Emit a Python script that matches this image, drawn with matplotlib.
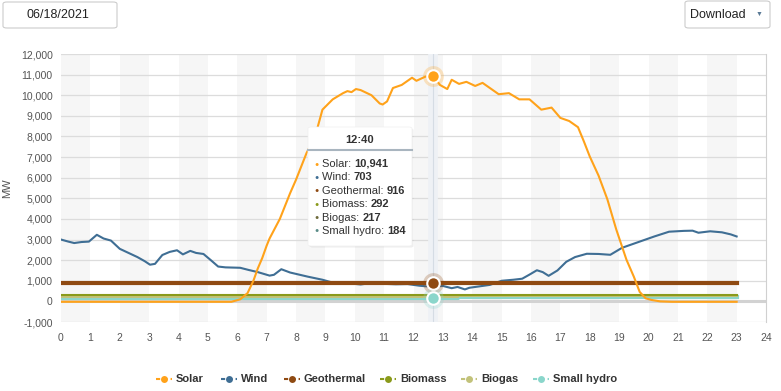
import matplotlib
matplotlib.use("Agg")
import matplotlib.pyplot as plt
from matplotlib.patches import FancyBboxPatch
from matplotlib.lines import Line2D
import numpy as np

plt.rcParams['font.family'] = ['Liberation Sans', 'DejaVu Sans']

# ---- data ----
date_label = "06/18/2021"
tip_time = "12:40"
tip_hour = 12 + 40 / 60

solar_h = [0, 5.8, 6.1, 6.35, 6.55, 6.7, 6.85, 7.0, 7.1, 7.45, 7.8, 8.0, 8.36, 8.65, 8.9,
           9.25, 9.6, 9.75, 9.89, 10.04, 10.2, 10.57, 10.85, 10.95, 11.1, 11.3, 11.6, 11.95,
           12.1, 12.4, 12.67, 12.9, 13.15, 13.3, 13.55, 13.8, 14.1, 14.35, 14.9, 15.25,
           15.6, 15.95, 16.35, 16.7, 17.0, 17.3, 17.6, 17.8, 18.0, 18.3, 18.6, 18.9, 19.25,
           19.5, 19.7, 19.9, 20.1, 20.4, 20.8, 23.0]
solar_v = [-20, -20, 100, 400, 1000, 1600, 2100, 2700, 3050, 4000, 5250, 5900, 7200, 8000, 9300,
           9800, 10100, 10200, 10150, 10300, 10250, 10000, 9600, 9550, 9700, 10350, 10500, 10850,
           10700, 10900, 10941, 10500, 10300, 10750, 10550, 10650, 10450, 10600, 10050, 10100,
           9800, 9800, 9300, 9400, 8900, 8750, 8450, 7760, 7030, 6100, 4950, 3500, 2020,
           1200, 460, 150, 70, 0, -20, -20]

wind_h = [0, 0.25, 0.45, 0.7, 0.95, 1.22, 1.45, 1.7, 2.0, 2.3, 2.6, 2.85, 3.03, 3.2, 3.45,
          3.7, 3.95, 4.15, 4.4, 4.6, 4.85, 5.1, 5.35, 5.6, 6.1, 6.4, 6.7, 7.1, 7.25, 7.5, 7.8,
          8.1, 8.4, 8.9, 9.4, 9.8, 10.2, 10.6, 11.0, 11.4, 11.8, 12.2, 12.67, 13.0, 13.3, 13.5,
          13.75, 13.9, 14.2, 14.6, 15.0, 15.4, 15.7, 15.95, 16.2, 16.4, 16.6, 16.9, 17.2, 17.5,
          17.9, 18.3, 18.7, 19.1, 19.5, 19.8, 20.2, 20.7, 21.2, 21.5, 21.7, 22.1, 22.5, 22.8, 23.0]
wind_v = [3000, 2900, 2830, 2880, 2900, 3230, 3050, 2950, 2550, 2350, 2150, 1950, 1780, 1820, 2250,
          2400, 2480, 2280, 2450, 2350, 2300, 2000, 1690, 1650, 1630, 1520, 1420, 1250, 1290, 1560, 1400,
          1300, 1200, 1050, 850, 880, 820, 900, 850, 830, 840, 760, 703, 750, 640, 700,
          580, 660, 720, 800, 1000, 1050, 1100, 1300, 1510, 1420, 1240, 1500, 1920, 2150,
          2310, 2300, 2260, 2600, 2800, 2950, 3150, 3380, 3420, 3430, 3330, 3400, 3350, 3250, 3150]

flat_h = [0, 13.5, 13.5, 23.0]
geo_v = [916, 916, 916, 916]
biomass_v = [292, 292, 330, 330]
biogas_v = [217, 217, 240, 240]
hydro_v = [184, 184, 200, 200]

tip_names = ["Solar", "Wind", "Geothermal", "Biomass", "Biogas", "Small hydro"]
tip_values = ["10,941", "703", "916", "292", "217", "184"]

# colours
c_solar = '#ffa21a'
c_wind = '#3f6e94'
c_geo = '#8f4a12'
c_biomass = '#8a9a1b'
c_biogas = '#c2c27a'
c_hydro = '#8ad6cb'
legend_colors = [c_solar, c_wind, c_geo, c_biomass, c_biogas, c_hydro]
tip_dots = [c_solar, c_wind, c_geo, c_biomass, '#6e6b3c', '#5a8c88']

fig = plt.figure(figsize=(7.81, 3.91), dpi=100)
ax = fig.add_axes([61 / 781, 1 - 322 / 391, 705 / 781, 268 / 391])

# alternating bands
for h in range(0, 24, 2):
    ax.axvspan(h, h + 1, color='#f6f6f6', zorder=0, lw=0)
for v in range(-1000, 12001, 1000):
    ax.axhline(v, color='#dcdcdc', lw=0.9, zorder=1)
ax.axhline(0, color='#d2d2d2', lw=2.2, zorder=1)

# crosshair
ax.axvline(tip_hour, color='#eef1f5', lw=7, zorder=1.5)
ax.axvline(tip_hour, color='#d5dce4', lw=0.8, zorder=1.6)

ax.plot(flat_h, hydro_v, color=c_hydro, lw=3, zorder=2)
ax.plot(flat_h, biogas_v, color=c_biogas, lw=1.5, zorder=2.1)
ax.plot(flat_h, biomass_v, color=c_biomass, lw=1.5, zorder=2.2)
ax.plot(wind_h, wind_v, color=c_wind, lw=1.5, zorder=2.3)
ax.plot(flat_h, geo_v, color=c_geo, lw=3, zorder=2.4)
ax.plot(solar_h, solar_v, color=c_solar, lw=1.5, zorder=2.5)

# hover markers
for val, col in [(10941, c_solar), (916, c_geo), (184, c_hydro)]:
    ax.plot(tip_hour, val, 'o', ms=15, color=col, alpha=0.25, mec='none', zorder=5)
    ax.plot(tip_hour, val, 'o', ms=9, color=col, mec='white', mew=1.5, zorder=6)

ax.set_xlim(0, 24)
ax.set_ylim(-1000, 12000)
ax.set_xticks(range(0, 25))
ax.set_yticks(range(-1000, 12001, 1000))
ax.set_yticklabels([f"{v:,}" for v in range(-1000, 12001, 1000)])
ax.tick_params(length=0, labelsize=7.5, colors='#555555', pad=8)
ax.tick_params(axis='y', pad=6)
for s in ['top', 'bottom', 'left']:
    ax.spines[s].set_visible(False)
ax.spines['right'].set_color('#d0d0d0')
ax.set_ylabel("MW", fontsize=8, color='#555555')
ax.yaxis.set_label_coords((12 - 61) / 705, 0.5)

# tooltip
tx0, ty0, tw, th = 308 / 781, 1 - 246 / 391, 104 / 781, 119 / 391
fig.patches.append(FancyBboxPatch((tx0 + 0.002, ty0 - 0.004), tw, th, boxstyle="round,pad=0,rounding_size=0.004",
                                  transform=fig.transFigure, fc='#00000010', ec='none', zorder=9))
fig.patches.append(FancyBboxPatch((tx0, ty0), tw, th, boxstyle="round,pad=0,rounding_size=0.004",
                                  transform=fig.transFigure, fc='white', ec='#f0f0f0', lw=0.5, zorder=10))
fig.text(360 / 781, 1 - 140 / 391, tip_time, ha='center', va='center', fontsize=8,
         fontweight='bold', color='#333333', zorder=11)
fig.add_artist(Line2D([308 / 781, 412 / 781], [1 - 150 / 391] * 2, color='#a9b5bf', lw=1.5, zorder=11))
for i, (name, val) in enumerate(zip(tip_names, tip_values)):
    yy = 1 - (164 + i * 13.4) / 391
    fig.text(317 / 781, yy, "\u25cf", ha='center', va='center', fontsize=5, color=tip_dots[i], zorder=11)
    t = fig.text(322 / 781, yy, name + ": ", ha='left', va='center', fontsize=8, color='#333333', zorder=11)
    fig.canvas.draw()
    bb = t.get_window_extent()
    fig.text(bb.x1 / 781, yy, val, ha='left', va='center', fontsize=8, fontweight='bold',
             color='#333333', zorder=11)

# legend
leg_x = [156, 221, 284, 380, 461, 533]
for x, name, col in zip(leg_x, tip_names, legend_colors):
    yy = 1 - 379 / 391
    fig.add_artist(Line2D([x / 781, (x + 16) / 781], [yy, yy], color=col, lw=1.5, ls=(0, (2, 1.5))))
    fig.add_artist(Line2D([(x + 8) / 781], [yy], marker='o', ms=5, color=col, mec='none'))
    fig.text((x + 20) / 781, yy, name, ha='left', va='center', fontsize=8, fontweight='bold', color='#333333')

# date box and download button
fig.patches.append(FancyBboxPatch((3 / 781, 1 - 28 / 391), 114 / 781, 26 / 391,
                                  boxstyle="round,pad=0,rounding_size=0.005", transform=fig.transFigure,
                                  fc='white', ec='#cccccc', lw=0.8))
fig.text(58 / 781, 1 - 15 / 391, date_label, ha='center', va='center', fontsize=9, color='#222222')
fig.patches.append(FancyBboxPatch((685 / 781, 1 - 28 / 391), 85 / 781, 27 / 391,
                                  boxstyle="round,pad=0,rounding_size=0.005", transform=fig.transFigure,
                                  fc='white', ec='#cccccc', lw=0.8))
fig.text(718 / 781, 1 - 15 / 391, "Download", ha='center', va='center', fontsize=9, color='#222222')
fig.text(759 / 781, 1 - 14 / 391, "\u25bc", ha='center', va='center', fontsize=5, color='#5a7a96')

fig.savefig("out.png", dpi=100)
